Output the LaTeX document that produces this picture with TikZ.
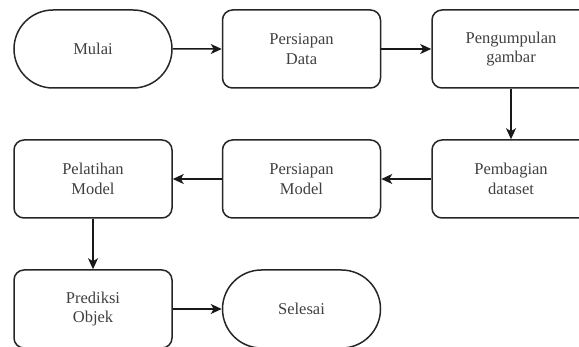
\documentclass[tikz,border=0pt]{standalone}
\usepackage{fontspec}
\setmainfont{Liberation Serif}
\usetikzlibrary{arrows.meta,shapes.misc}
\begin{document}
\begin{tikzpicture}[x=1pt,y=-1pt,
  base/.style={draw=black!85,line width=1.5pt,minimum width=158pt,minimum height=78pt,
    align=center,font=\fontsize{16.5}{19.5}\selectfont,text=black!75,inner sep=0pt},
  procbox/.style={base,rounded corners=10pt},
  termbox/.style={base,rounded rectangle,rounded rectangle arc length=180},
  conn/.style={draw=black!90,line width=1.5pt,-{Stealth[length=11pt,width=10pt,inset=3pt]}}]
\useasboundingbox (0,0) rectangle (579,347);
\clip (0,0) rectangle (579,347);
\node[termbox] (mulai) at (93,49) {Mulai};
\node[procbox] (pdata) at (301.5,49) {Persiapan\\Data};
\node[procbox] (kumpul) at (511,49) {Pengumpulan\\gambar};
\node[procbox] (bagi) at (511,179) {Pembagian\\dataset};
\node[procbox] (pmodel) at (301.5,179) {Persiapan\\Model};
\node[procbox] (latih) at (93,179) {Pelatihan\\Model};
\node[procbox] (pred) at (93,309) {Prediksi\\Objek};
\node[termbox] (selesai) at (301.5,309) {Selesai};
\draw[conn] (mulai) -- (pdata);
\draw[conn] (pdata) -- (kumpul);
\draw[conn] (kumpul) -- (bagi);
\draw[conn] (bagi) -- (pmodel);
\draw[conn] (pmodel) -- (latih);
\draw[conn] (latih) -- (pred);
\draw[conn] (pred) -- (selesai);
\end{tikzpicture}
\end{document}
